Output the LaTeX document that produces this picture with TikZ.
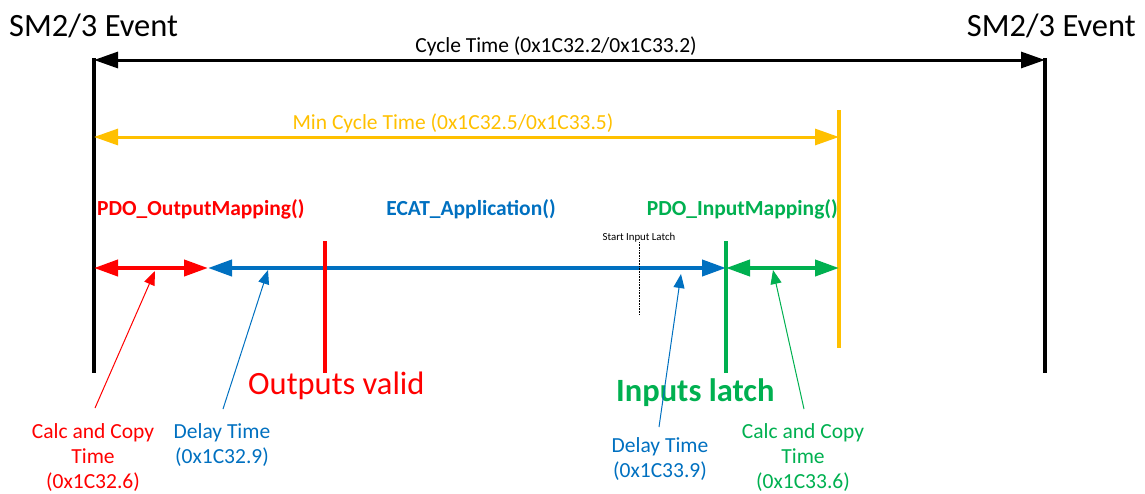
\documentclass[tikz,border=0pt]{standalone}
\usepackage{fontspec}
\setmainfont{Carlito}
\usetikzlibrary{arrows.meta}
\definecolor{cred}{HTML}{FF0000}
\definecolor{cblue}{HTML}{0070C0}
\definecolor{cgreen}{HTML}{00B050}
\definecolor{cyellow}{HTML}{FFC000}
\begin{document}
\begin{tikzpicture}[x=1pt,y=-1pt,
  lbl/.style={inner sep=0pt},
  event/.style={lbl,font=\fontsize{32.5}{36}\selectfont},
  span/.style={lbl,font=\fontsize{21.5}{26}\selectfont},
  func/.style={lbl,font=\fontsize{21.5}{26}\selectfont\bfseries},
  small/.style={lbl,font=\fontsize{21.5}{25}\selectfont,align=center},
  marker/.style={lbl,font=\fontsize{32.5}{38}\selectfont},
  tiny/.style={lbl,font=\fontsize{10.8}{12}\selectfont},
  bigtip/.style={{Triangle[length=24pt,width=16pt]}-{Triangle[length=24pt,width=16pt]}},
  ptr/.style={line width=1pt,-{Triangle[length=14pt,width=11pt]}},
  vline/.style={line width=3.5pt},
  tl/.style={line width=4pt,bigtip}]
\useasboundingbox (0,0) rectangle (1145,493);
% coordinates
\coordinate (Ltop) at (94,58);
\coordinate (Lbot) at (94,373);
\coordinate (Rtop) at (1045,58);
\coordinate (Rbot) at (1045,373);
\coordinate (ct1) at (94,60);
\coordinate (ct2) at (1045,60);
\coordinate (Ytop) at (839,110);
\coordinate (Ybot) at (839,348);
\coordinate (mc1) at (94,137);
\coordinate (mc2) at (839,137);
\coordinate (ta) at (94,268);
\coordinate (tb) at (208,268);
\coordinate (tc) at (726,268);
\coordinate (td) at (839,268);
\coordinate (RVtop) at (325,241);
\coordinate (RVbot) at (325,373);
\coordinate (GVtop) at (726,241);
\coordinate (GVbot) at (726,373);
\coordinate (SLtop) at (639,242);
\coordinate (SLbot) at (639,315);
\coordinate (p1s) at (95,408);   \coordinate (p1e) at (155,271);
\coordinate (p2s) at (223,409);  \coordinate (p2e) at (268,270);
\coordinate (p3s) at (659,427);  \coordinate (p3e) at (681,274);
\coordinate (p4s) at (804,409);  \coordinate (p4e) at (773,270);

% event lines
\draw[vline] (Ltop) -- (Lbot);
\draw[vline] (Rtop) -- (Rbot);
\draw[line width=3pt,bigtip] (ct1) -- (ct2);
\node[event,anchor=base west] (ev1) at (9,36) {SM2/3 Event};
\node[event,anchor=base east] (ev2) at (1136,36) {SM2/3 Event};
\node[span,anchor=base] (cyc) at (556,52) {Cycle Time (0x1C32.2/0x1C33.2)};

% min cycle
\draw[cyellow,vline] (Ytop) -- (Ybot);
\draw[cyellow,line width=3pt,bigtip] (mc1) -- (mc2);
\node[span,text=cyellow,anchor=base] (mct) at (453,129) {Min Cycle Time (0x1C32.5/0x1C33.5)};

% functions
\node[func,text=cred,anchor=base west] (fo) at (97,215) {PDO\_OutputMapping()};
\node[func,text=cblue,anchor=base] (fa) at (471,215) {ECAT\_Application()};
\node[func,text=cgreen,anchor=base east] (fi) at (838,215) {PDO\_InputMapping()};

% timeline
\draw[cred,tl] (ta) -- (tb);
\draw[cblue,tl] (tb) -- (tc);
\draw[cgreen,tl] (tc) -- (td);
\draw[cred,vline] (RVtop) -- (RVbot);
\draw[cgreen,vline] (GVtop) -- (GVbot);
\draw[line width=0.6pt,densely dotted] (SLtop) -- (SLbot);
\node[tiny,anchor=base] (sil) at (639,240) {Start Input Latch};

% markers
\node[marker,text=cred,anchor=base west] (ov) at (248,394) {Outputs valid};
\node[marker,text=cgreen,font=\fontsize{32.5}{38}\selectfont\bfseries,anchor=base west] (il) at (616,401) {Inputs latch};

% pointer labels (base = last line)
\node[small,text=cred,anchor=base] (l1) at (93,488) {Calc and Copy\\Time\\(0x1C32.6)};
\node[small,text=cblue,anchor=base] (l2) at (222,463) {Delay Time\\(0x1C32.9)};
\node[small,text=cblue,anchor=base] (l3) at (660,477) {Delay Time\\(0x1C33.9)};
\node[small,text=cgreen,anchor=base] (l4) at (803,488) {Calc and Copy\\Time\\(0x1C33.6)};

% pointers
\draw[cred,ptr] (p1s) -- (p1e);
\draw[cblue,ptr] (p2s) -- (p2e);
\draw[cblue,ptr] (p3s) -- (p3e);
\draw[cgreen,ptr] (p4s) -- (p4e);
\end{tikzpicture}
\end{document}
